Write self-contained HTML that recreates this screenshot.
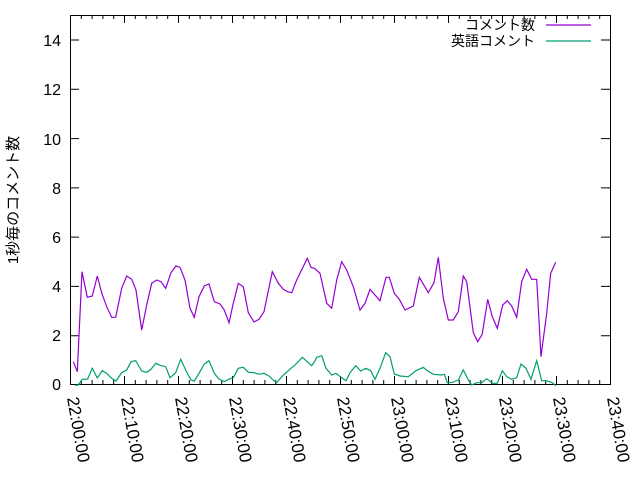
<!DOCTYPE html>
<html><head><meta charset="utf-8"><style>
html,body{margin:0;padding:0;background:#fff;}
svg{display:block;font-family:"Liberation Sans","Noto Sans CJK JP",sans-serif;}
</style></head><body>
<svg width="640" height="480" viewBox="0 0 640 480" xmlns="http://www.w3.org/2000/svg">
<rect width="640" height="480" fill="#fff"/>
<g stroke="#000" stroke-width="1" fill="none">
<rect x="70.5" y="15.5" width="540" height="369"/>
<path d="M70 335.7h9M70 286.4h9M70 237.1h9M70 187.9h9M70 138.6h9M70 89.3h9M70 40h9
M610 335.7h-9M610 286.4h-9M610 237.1h-9M610 187.9h-9M610 138.6h-9M610 89.3h-9M610 40h-9"/>
<path d="M70.5 384v-8M124.5 384v-8M178.5 384v-8M232.5 384v-8M286.5 384v-8M340.5 384v-8M394.5 384v-8M448.5 384v-8M502.5 384v-8M556.5 384v-8
M70.5 15v8M124.5 15v8M178.5 15v8M232.5 15v8M286.5 15v8M340.5 15v8M394.5 15v8M448.5 15v8M502.5 15v8M556.5 15v8"/>
<path d="M81.3 384v-4M92.1 384v-4M102.9 384v-4M113.7 384v-4M135.3 384v-4M146.1 384v-4M156.9 384v-4M167.7 384v-4M189.3 384v-4M200.1 384v-4M210.9 384v-4M221.7 384v-4M243.3 384v-4M254.1 384v-4M264.9 384v-4M275.7 384v-4M297.3 384v-4M308.1 384v-4M318.9 384v-4M329.7 384v-4M351.3 384v-4M362.1 384v-4M372.9 384v-4M383.7 384v-4M405.3 384v-4M416.1 384v-4M426.9 384v-4M437.7 384v-4M459.3 384v-4M470.1 384v-4M480.9 384v-4M491.7 384v-4M513.3 384v-4M524.1 384v-4M534.9 384v-4M545.7 384v-4M567.3 384v-4M578.1 384v-4M588.9 384v-4M599.7 384v-4
M81.3 15v4M92.1 15v4M102.9 15v4M113.7 15v4M135.3 15v4M146.1 15v4M156.9 15v4M167.7 15v4M189.3 15v4M200.1 15v4M210.9 15v4M221.7 15v4M243.3 15v4M254.1 15v4M264.9 15v4M275.7 15v4M297.3 15v4M308.1 15v4M318.9 15v4M329.7 15v4M351.3 15v4M362.1 15v4M372.9 15v4M383.7 15v4M405.3 15v4M416.1 15v4M426.9 15v4M437.7 15v4M459.3 15v4M470.1 15v4M480.9 15v4M491.7 15v4M513.3 15v4M524.1 15v4M534.9 15v4M545.7 15v4M567.3 15v4M578.1 15v4M588.9 15v4M599.7 15v4"/>
</g>
<g font-size="16" fill="#000" text-anchor="end">
<text x="61" y="390">0</text><text x="61" y="341">2</text><text x="61" y="292">4</text><text x="61" y="243">6</text><text x="61" y="194">8</text><text x="61" y="145">10</text><text x="61" y="95">12</text><text x="61" y="46">14</text>
</g>
<g font-size="17" fill="#000">
<text transform="translate(67,398) rotate(80)">22:00:00</text>
<text transform="translate(121,398) rotate(80)">22:10:00</text>
<text transform="translate(175,398) rotate(80)">22:20:00</text>
<text transform="translate(229,398) rotate(80)">22:30:00</text>
<text transform="translate(283,398) rotate(80)">22:40:00</text>
<text transform="translate(337,398) rotate(80)">22:50:00</text>
<text transform="translate(391,398) rotate(80)">23:00:00</text>
<text transform="translate(445,398) rotate(80)">23:10:00</text>
<text transform="translate(499,398) rotate(80)">23:20:00</text>
<text transform="translate(553,398) rotate(80)">23:30:00</text>
<text transform="translate(607,398) rotate(80)">23:40:00</text>
</g>
<text transform="translate(18,200) rotate(-90)" font-size="15" text-anchor="middle">1秒毎のコメント数</text>
<g font-size="14" text-anchor="end">
<text x="535" y="30">コメント数</text>
<text x="535" y="46">英語コメント</text>
</g>
<path d="M546 25h45" stroke="#9400d3" stroke-width="1.3"/>
<path d="M546 41h45" stroke="#009e73" stroke-width="1.3"/>
<polyline fill="none" stroke="#9400d3" stroke-width="1.2" points="73.3,361.7 77.3,371.7 82,271.7 87.3,297.3 92.3,296 97.3,276 101.7,293 106.7,306.7 111.7,317.3 115.7,317.3 121.7,288.3 126.7,276 131.7,279.3 136,290 141.7,330 146.7,305 151.7,283.3 156.7,280 161,281.7 165.7,288.3 171,272.7 176,266 180,267.3 185,280 190,308.3 194.3,317.3 199,296.7 204.3,286 209,284 214.3,301.7 220,304 224.3,310 229,322.7 233.3,303.3 238.3,283.3 243.3,286.7 248.3,312.7 254,322 259,319.3 264,311.7 272.3,271.7 278.3,283.3 283.3,289.3 287.7,291.7 291.7,292.7 296.7,280 307.3,258.3 311,267.3 315,268.7 320,273.3 326.7,303.3 331.7,308.3 336.7,280 341.7,261.7 346.7,270 353.3,286.7 360,310 365,303.3 370,289.3 375,295 380,300.7 386,277.3 389.3,277.3 394.3,293.3 399.3,299.3 405,310 413.3,306 419.3,277.3 428.3,292.7 434,282.7 438.3,257.3 443.3,298.3 448.3,320 453.3,320 458.3,311.7 463.3,276 466.7,281.7 473.3,332.7 477.7,341.7 482.3,334 487.7,299.3 492.3,316.7 497.3,328.3 502.7,305 507.3,300.7 511.7,306 516.7,317.3 521.7,281.7 526.7,269.3 531.7,279.3 536.7,279.3 541,356.7 546.7,313.3 550.7,273.3 555.7,262.3"/>
<polyline fill="none" stroke="#009e73" stroke-width="1.2" points="75,385.3 78.3,385 82.3,379.3 87.7,379 92.3,368.3 97.3,378 102.3,370.7 106.7,373.3 111.7,378.3 116,381 121.7,372.7 126.7,370 131,361.7 135.7,360.7 141.7,371 146.7,372.3 151,369.3 155.7,363.3 160,365.3 165.7,366.7 170,377.7 175.7,372.7 180.7,359.3 185.7,370 191,380 194.3,381 199,373.3 204.3,364 209,360.7 214.3,373.3 219,379 224.3,381.7 229,379 233.3,377.7 238.3,368.3 243.3,367.3 248.3,372.3 254,372.7 259,374.3 264,373.3 269,376 272.3,379.3 276.7,382.7 281.7,376.7 288.3,370.7 295,365 302.3,357.3 311.7,365.7 315,360.7 316.7,357.3 321.7,355.7 326,368.3 331.7,375 336,373.3 341,377.3 346,380.7 350,372.7 355.7,365.7 360.7,371 365.7,368.3 370.7,370.7 375,379.3 380,368.3 385.7,352.7 390,356.7 394.3,374 400,376 408.3,376.7 416,370.7 423.3,367.3 427.3,370.7 433.3,374.3 441.7,375 444.3,374.3 447.3,382.7 452.7,382.3 458.3,380 463.3,370 468.3,380 471.7,385 476.7,382.7 481.7,382.7 486.7,378.7 492.7,383.3 497.3,383.3 502.3,370.7 506.7,376.7 511.7,379.3 516.7,377.7 521,364 526,368.3 531,379.3 536.7,360.7 541.7,380.7 546.7,380.7 552.3,382.7 555.7,385.7"/>
</svg>
</body></html>
